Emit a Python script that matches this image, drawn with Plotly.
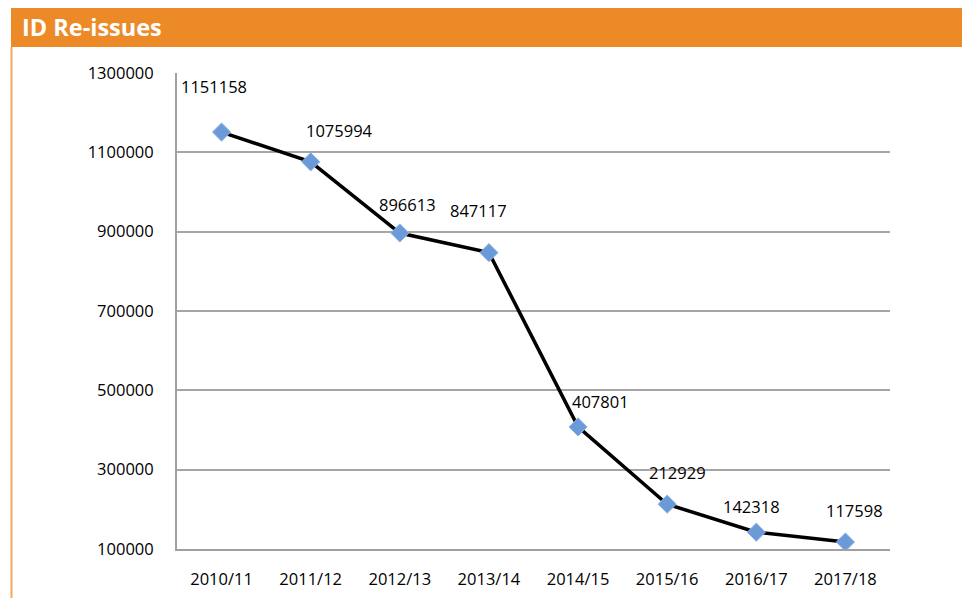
import plotly.graph_objects as go

categories = ["2010/11", "2011/12", "2012/13", "2013/14", "2014/15", "2015/16", "2016/17", "2017/18"]
values = [1151158, 1075994, 896613, 847117, 407801, 212929, 142318, 117598]
label_dx = [-8, 29, 8, -10, 22, 10, -5, 9]
label_dy = [46, 31, 29, 42, 25, 32, 26, 32]
y_ticks = [100000, 300000, 500000, 700000, 900000, 1100000, 1300000]
title_text = "ID Re-issues"

W, H = 970, 598
OFF = 8  # page body margin offset
L, R, T, B = 177 - OFF, 890 - OFF, 73 - OFF, 549 - OFF
pw, ph = R - L, B - T

def px_x(x):
    return (x - OFF - L) / pw

def px_y(y):
    return (B - (y - OFF)) / ph

FONT = "Open Sans"
ORANGE = "#EC8A28"
FS = 16.5

fig = go.Figure()
fig.add_trace(go.Scatter(
    x=categories, y=values, mode="lines+markers",
    line=dict(color="black", width=3.5),
    marker=dict(symbol="diamond", size=14, color="#6A9BD8",
                line=dict(color="#8FB4E3", width=1)),
    showlegend=False, hoverinfo="x+y",
))

for c, v, dx, dy in zip(categories, values, label_dx, label_dy):
    fig.add_annotation(x=c, y=v, text=str(v), showarrow=False,
                       xshift=dx, yshift=dy,
                       font=dict(family=FONT, size=FS, color="black"))

shapes = [
    dict(type="rect", xref="paper", yref="paper",
         x0=px_x(11), x1=px_x(980), y0=px_y(47), y1=px_y(5),
         fillcolor=ORANGE, line=dict(width=0), layer="below"),
    dict(type="line", xref="paper", yref="paper",
         x0=px_x(11.5), x1=px_x(11.5), y0=px_y(47), y1=px_y(610),
         line=dict(color="#F3A85E", width=2)),
]

fig.add_annotation(xref="paper", yref="paper", x=px_x(20), y=px_y(27),
                   xanchor="left", yanchor="middle", showarrow=False,
                   text="<b>" + title_text + "</b>",
                   font=dict(family=FONT, size=23.5, color="white"))

fig.update_layout(
    width=W, height=H,
    margin=dict(l=L, r=W - R, t=T, b=H - B, pad=0),
    paper_bgcolor="white", plot_bgcolor="white",
    shapes=shapes,
    font=dict(family=FONT, size=FS, color="black"),
    xaxis=dict(type="category", range=[-0.5, 7.5], showgrid=False,
               showline=True, linecolor="#A0A0A0", linewidth=2,
               ticks="", ticklabelstandoff=14, fixedrange=True,
               tickfont=dict(family=FONT, size=FS)),
    yaxis=dict(range=[100000, 1300000], tickvals=y_ticks,
               ticktext=[str(t) for t in y_ticks],
               showgrid=True, gridcolor="#A6A6A6", gridwidth=1.5,
               showline=True, linecolor="#A0A0A0", linewidth=2,
               zeroline=False, ticks="", ticklabelstandoff=18,
               tickfont=dict(family=FONT, size=FS)),
)

fig.write_html("out.html")
